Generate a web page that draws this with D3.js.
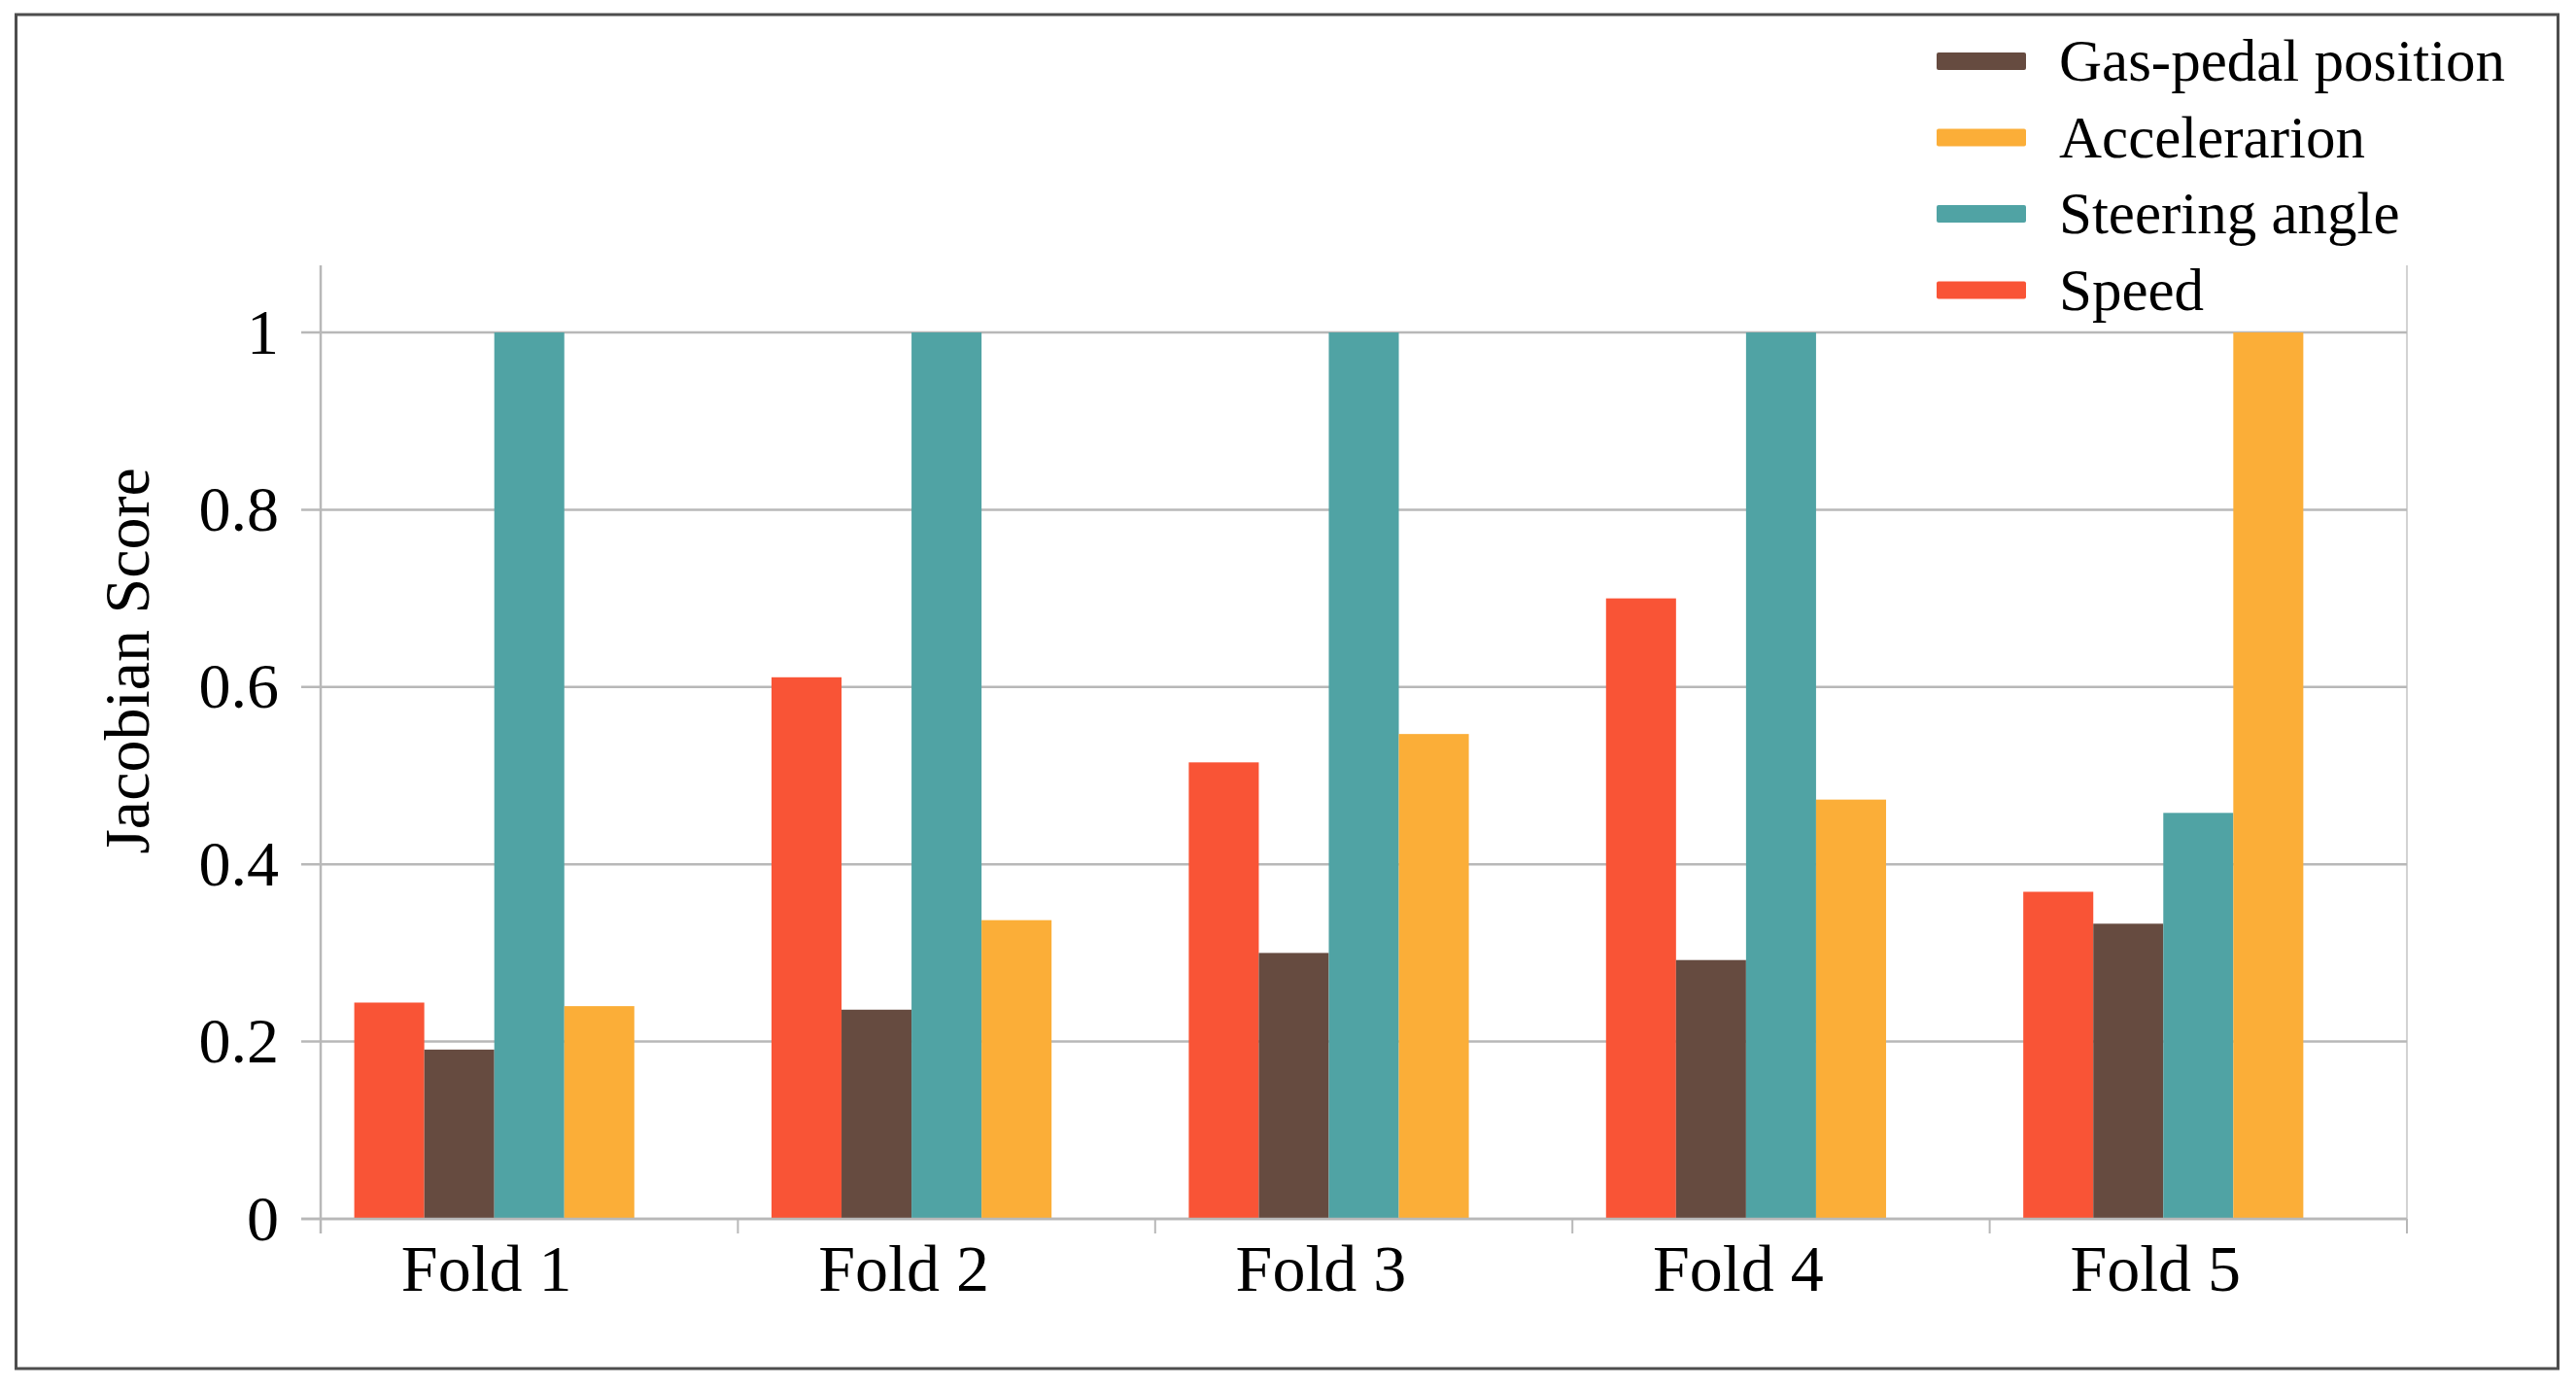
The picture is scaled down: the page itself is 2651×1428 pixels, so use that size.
<!DOCTYPE html>
<html><head><meta charset="utf-8">
<script src="https://cdn.jsdelivr.net/npm/d3@7"></script>
<style>body{margin:0;background:#fff}svg{display:block}</style></head>
<body>
<svg id="chart" width="2651" height="1428"></svg>
<script>
// ---- data ----
const folds = ["Fold 1", "Fold 2", "Fold 3", "Fold 4", "Fold 5"];
const seriesKeys = ["Speed", "Gas-pedal position", "Steering angle", "Accelerarion"];
const speed        = [0.244, 0.611, 0.515, 0.700, 0.369];
const gasPedal     = [0.191, 0.236, 0.300, 0.292, 0.333];
const steering     = [1.000, 1.000, 1.000, 1.000, 0.458];
const acceleration = [0.240, 0.337, 0.547, 0.473, 1.000];
const yTicks = [0, 0.2, 0.4, 0.6, 0.8, 1];
const legendOrder = ["Gas-pedal position", "Accelerarion", "Steering angle", "Speed"];
const yTitle = "Jacobian Score";

(function () {
const seriesValues = {
  "Speed": speed,
  "Gas-pedal position": gasPedal,
  "Steering angle": steering,
  "Accelerarion": acceleration
};
const color = d3.scaleOrdinal()
  .domain(["Gas-pedal position", "Accelerarion", "Steering angle", "Speed"])
  .range(["#664b40", "#fbae38", "#50a3a4", "#f95436"]);

// ---- layout ----
const svg = d3.select("#chart");
const FONT = "'Liberation Serif', 'Times New Roman', serif";
const pLeft = 330, pRight = 2477, pTop = 273, pBottom = 1254;

svg.append("rect").attr("x", 16.5).attr("y", 15).attr("width", 2616).attr("height", 1393)
  .attr("fill", "#fff").attr("stroke", "#4d4d4d").attr("stroke-width", 3);

const x0 = d3.scaleBand().domain(folds).range([pLeft, pRight]).padding(0);
// 5 slots per group: the 4 series plus one empty slot
const x1 = d3.scaleBand().domain([...seriesKeys, "__empty"]).range([0, x0.bandwidth()])
  .paddingInner(0).paddingOuter(0.48);
const y = d3.scaleLinear().domain([0, 1.0757]).range([pBottom, pTop]);

const g = svg.append("g");

// right border of plot area
g.append("line").attr("x1", pRight).attr("x2", pRight).attr("y1", pTop).attr("y2", pBottom)
  .attr("stroke", "#d3d3d3").attr("stroke-width", 2);

// gridlines
g.selectAll("line.grid").data(yTicks).join("line").attr("class", "grid")
  .attr("x1", pLeft - 20).attr("x2", pRight)
  .attr("y1", d => y(d)).attr("y2", d => y(d))
  .attr("stroke", "#b8b8b8").attr("stroke-width", 2.5);

// bars
const barData = [];
folds.forEach((f, i) => seriesKeys.forEach(k => barData.push({fold: f, key: k, value: seriesValues[k][i]})));
g.selectAll("rect.bar").data(barData).join("rect").attr("class", "bar")
  .attr("x", d => x0(d.fold) + x1(d.key))
  .attr("width", x1.bandwidth())
  .attr("y", d => y(d.value))
  .attr("height", d => y(0) - y(d.value))
  .attr("fill", d => color(d.key));

// y axis
const yAxis = g.append("g").attr("transform", `translate(${pLeft},0)`)
  .call(d3.axisLeft(y).tickValues(yTicks).tickFormat(d => String(d)).tickSize(20).tickPadding(23));
yAxis.select(".domain").remove();
yAxis.selectAll(".tick line").remove();
yAxis.selectAll("text").attr("font-family", FONT).attr("font-size", 66).attr("fill", "#000");
g.append("line").attr("x1", pLeft).attr("x2", pLeft).attr("y1", pTop).attr("y2", pBottom + 15)
  .attr("stroke", "#b8b8b8").attr("stroke-width", 2.5);

// x axis: baseline + boundary ticks
g.append("line").attr("x1", pLeft - 20).attr("x2", pRight).attr("y1", y(0)).attr("y2", y(0))
  .attr("stroke", "#b8b8b8").attr("stroke-width", 2.5);
const boundaries = [...folds.map(f => x0(f)), x0.range()[1]];
g.selectAll("line.xt").data(boundaries).join("line").attr("class", "xt")
  .attr("x1", d => d).attr("x2", d => d).attr("y1", y(0)).attr("y2", y(0) + 15)
  .attr("stroke", "#b8b8b8").attr("stroke-width", 2);
g.selectAll("text.xl").data(folds).join("text").attr("class", "xl")
  .attr("x", f => x0(f) + (x1(seriesKeys[0]) + x1(seriesKeys[3]) + x1.bandwidth()) / 2 - 8)
  .attr("y", 1328)
  .attr("text-anchor", "middle").attr("font-family", FONT).attr("font-size", 68).attr("fill", "#000")
  .text(d => d);

// y title
svg.append("text").attr("transform", "translate(153,680) rotate(-90)")
  .attr("text-anchor", "middle").attr("font-family", FONT).attr("font-size", 66).attr("fill", "#000")
  .text(yTitle);

// legend
const leg = svg.append("g");
const items = leg.selectAll("g").data(legendOrder).join("g")
  .attr("transform", (d, i) => `translate(1993,${63 + i * 78.5})`);
items.append("rect").attr("x", 0).attr("y", -9).attr("width", 92).attr("height", 18).attr("rx", 2)
  .attr("fill", d => color(d));
items.append("text").attr("x", 126).attr("y", 20).attr("font-family", FONT).attr("font-size", 61)
  .attr("fill", "#000").text(d => d);
})();
</script>
</body></html>
